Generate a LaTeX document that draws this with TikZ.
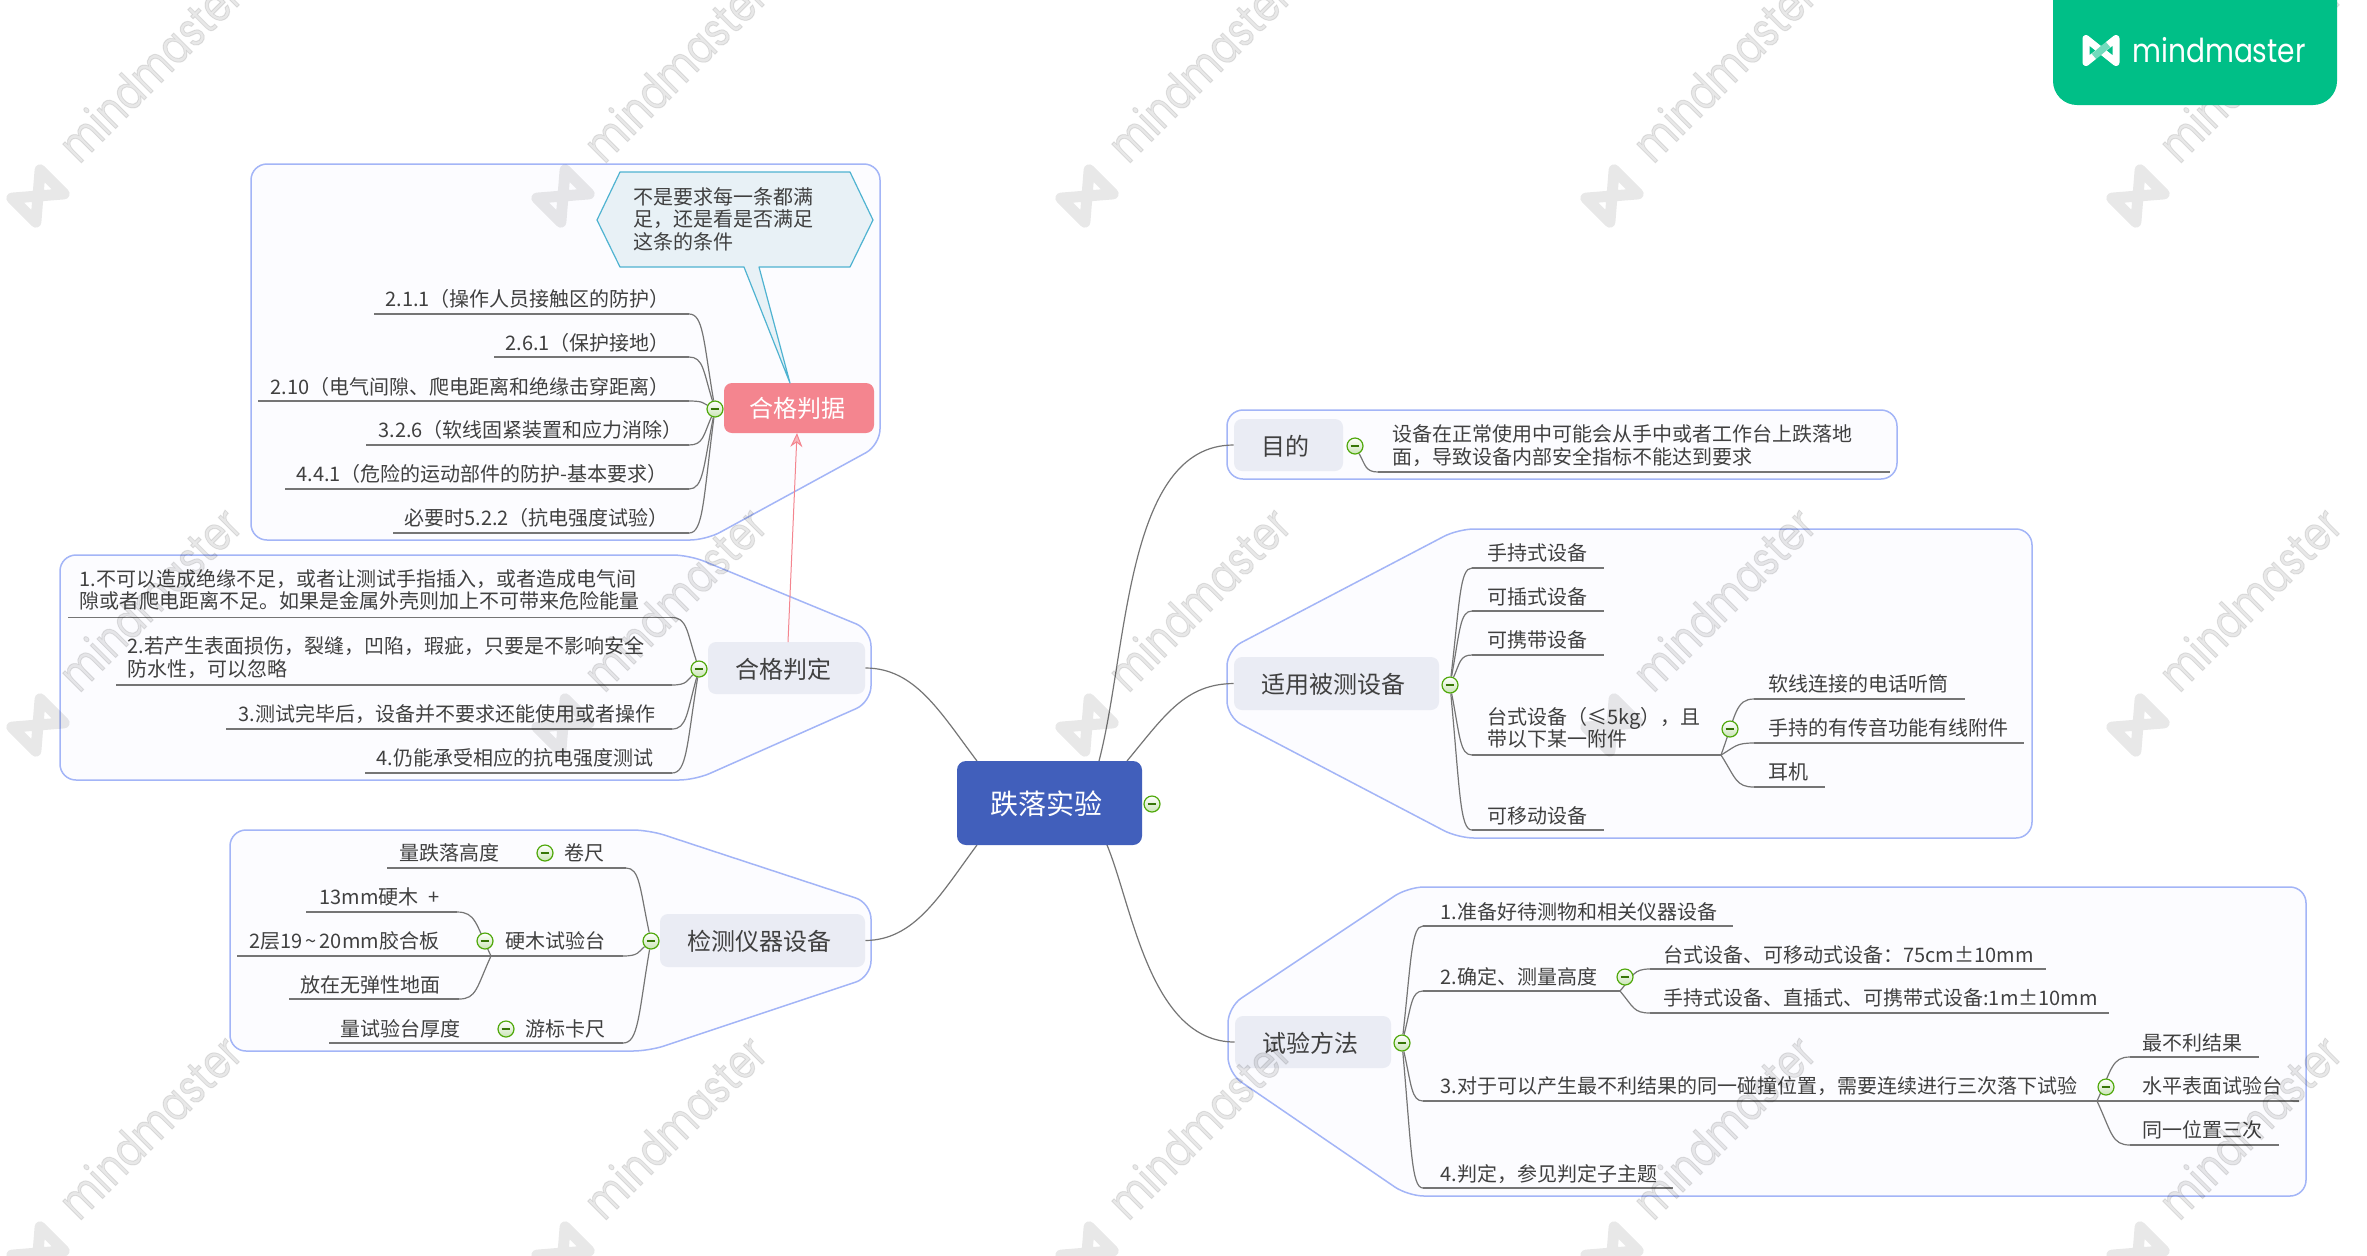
\documentclass[tikz,border=0pt]{standalone}
\usepackage{graphicx}
\usepackage{fontspec}
\setmainfont{Noto Sans CJK SC}
\newfontfamily\logofont{Poppins}
\newfontfamily\wmfont[FakeBold=2.2]{Poppins}
\usetikzlibrary{calc,arrows.meta}
\pgfdeclarelayer{boxes}
\pgfdeclarelayer{lines}
\pgfsetlayers{boxes,lines,main}
\definecolor{grpline}{HTML}{A3B5F7}
\definecolor{grpfill}{HTML}{FCFCFF}
\definecolor{inkc}{HTML}{404040}
\definecolor{linkc}{HTML}{757575}
\definecolor{topicfill}{HTML}{EAECF4}
\definecolor{rootfill}{HTML}{415FBB}
\definecolor{pinkc}{HTML}{F4858F}
\definecolor{collc}{HTML}{4FA80A}
\definecolor{calloutline}{HTML}{4FB3D1}
\definecolor{calloutfill}{HTML}{E8F1F6}
\definecolor{logoc}{HTML}{00BF87}
\tikzset{
  grp/.style={draw=grpline,fill=grpfill,line width=.75pt,rounded corners=8pt},
  leaf/.style={anchor=base west,inner sep=0pt,text=inkc,font=\fontsize{10}{11.25}\selectfont},
  leaftwo/.style={anchor=west,inner sep=0pt,align=left,text=inkc,font=\fontsize{10}{11.25}\selectfont},
  under/.style={draw=linkc,line width=.7pt},
  link/.style={draw=linkc,line width=.6pt},
  topic/.style={rectangle,rounded corners=4pt,fill=topicfill,inner sep=0pt,text=inkc,text depth=0pt,font=\fontsize{12}{14}\selectfont,execute at end node={\kern3pt}},
  coll/.style={circle,draw=collc,line width=.6pt,top color=white,bottom color=collc!30,inner sep=0pt,minimum size=8pt,
    path picture={\draw[draw=collc!70!black,line width=.6pt] ($(path picture bounding box.center)+(-2.2pt,0)$) -- ($(path picture bounding box.center)+(2.2pt,0)$);}},
  wmark/.style={draw=black,draw opacity=.09,line width=5.5pt,line join=round},
  wmtext/.style={text=black,text opacity=.09,inner sep=0pt,anchor=base,font=\wmfont\fontsize{24}{26}\selectfont},
}
\newcommand\lf[7]{\coordinate (#1L) at (#2,#4); \coordinate (#1R) at (#3,#4);
  \node[leaf] (#1) at (#5,#6+7.5) {#7};
  \draw[under] (#1L) -- (#1R);}
\newcommand\lftwo[7]{\coordinate (#1L) at (#2,#4); \coordinate (#1R) at (#3,#4);
  \node[leaftwo] (#1) at (#5,#6) {#7};
  \draw[under] (#1L) -- (#1R);}
\newcommand\conn[2]{\begin{pgfonlayer}{lines}\draw[link] let \p1=(#1), \p2=(#2) in (#1) .. controls ({\x1+.55*(\x2-\x1)},\y1) and ({\x1+.55*(\x2-\x1)},{\y1+.27*(\y2-\y1)}) .. (#2);\end{pgfonlayer}}
\begin{document}
\begin{tikzpicture}[x=0.5pt,y=-0.5pt]
\useasboundingbox (0,0) rectangle (2367,1255);
% group frames
\begin{pgfonlayer}{boxes}
\fill[white] (0,0) rectangle (2367,1255);
\draw[grp] (251,164) -- (880,164) -- (880,445) -- (706,540) -- (251,540) -- cycle;
\draw[grp] (60,555) -- (689,555) -- (871,630) -- (871,702) -- (695,780) -- (60,780) -- cycle;
\draw[grp] (230,830) -- (649,830) -- (871,903) -- (871,977) -- (649,1051) -- (230,1051) -- cycle;
\draw[grp] (1227,410) -- (1897,410) -- (1897,479) -- (1227,479) -- cycle;
\draw[grp] (1458,529) -- (2032,529) -- (2032,838) -- (1458,838) -- (1227,717) -- (1227,650) -- cycle;
\draw[grp] (1408,887) -- (2306,887) -- (2306,1196) -- (1408,1196) -- (1228,1073) -- (1228,1007) -- cycle;
\end{pgfonlayer}
% root and topics
\node[rectangle,rounded corners=4.5pt,fill=rootfill,text=white,text depth=0pt,inner sep=0pt,minimum width=92.5pt,minimum height=42pt,font=\fontsize{14}{16}\selectfont,execute at end node={\kern3pt}] (root) at (1049.5,803) {跌落实验};
\node[coll] (collRoot) at (1152,804) {};
\node[topic,minimum width=54.5pt,minimum height=26pt] (tMud) at (1288.5,445) {目的};
\node[topic,minimum width=102.5pt,minimum height=26.5pt] (tShi) at (1336.5,683.5) {适用被测设备};
\node[topic,minimum width=78pt,minimum height=26pt] (tFan) at (1313,1042) {试验方法};
\node[topic,minimum width=78.5pt,minimum height=26pt] (tPan) at (786.5,668) {合格判定};
\node[topic,minimum width=102.5pt,minimum height=26.5pt] (tJian) at (762.5,940.5) {检测仪器设备};
\node[rectangle,rounded corners=4pt,fill=pinkc,text=white,inner sep=0pt,minimum width=75pt,minimum height=25pt,font=\fontsize{12}{14}\selectfont,execute at end node={\kern2pt}] (tJu) at (799,408) {合格判据};
% root connectors
\coordinate (rUa) at (1099,761);
\coordinate (rUb) at (1127,761);
\coordinate (rDa) at (1107,845);
\coordinate (rUl) at (977,761);
\coordinate (rDl) at (977,845);
\begin{pgfonlayer}{lines}
\draw[link] (rUa) .. controls (1128,650) and (1125,445) .. (tMud.west);
\draw[link] (rUb) .. controls (1165,715) and (1185,684) .. (tShi.west);
\draw[link] (rDa) .. controls (1132,905) and (1150,1042) .. (tFan.west);
\draw[link] (rUl) .. controls (940,712) and (915,668) .. (tPan.east);
\draw[link] (rDl) .. controls (940,895) and (915,940) .. (tJian.east);
\end{pgfonlayer}
% callout
\path[draw=calloutline,fill=calloutfill,line width=.6pt,line join=round] (597,220) -- (620,172) -- (850,172) -- (873,220) -- (850,267) -- (759,267) -- (790,383) -- (744,267) -- (620,267) -- cycle;
\node[leaftwo] (callout) at (633,219) {不是要求每一条都满\\足，还是看是否满足\\这条的条件};
% pink relation
\coordinate (jTo) at (797,433);
\coordinate (jFrom) at (788,642);
\draw[draw=pinkc,line width=.5pt,-{Stealth[length=7pt,width=6pt,fill=pinkc!60]}] (jFrom) -- (jTo);
% group A
\node[coll] (cA) at (715,409) {};
\lf{aA}{374}{689}{314}{385}{299}{2.1.1（操作人员接触区的防护）}
\lf{aB}{494}{689}{357}{505}{343}{2.6.1（保护接地）}
\lf{aC}{258}{689}{401}{270}{387}{2.10（电气间隙、爬电距离和绝缘击穿距离）}
\lf{aD}{366}{689}{445}{378}{430}{3.2.6（软线固紧装置和应力消除）}
\lf{aE}{285}{689}{489}{296}{474}{4.4.1（危险的运动部件的防护-基本要求）}
\lf{aF}{393}{689}{533}{404}{518}{必要时5.2.2（抗电强度试验）}
\foreach \lk in {aA,aB,aC,aD,aE,aF}{\conn{\lk R}{cA}}
% group B
\node[coll] (cB) at (699,669) {};
\lftwo{bA}{68}{672}{617.5}{79}{590}{1.不可以造成绝缘不足，或者让测试手指插入，或者造成电气间\\隙或者爬电距离不足。如果是金属外壳则加上不可带来危险能量}
\lftwo{bB}{116}{672}{685}{127}{657.5}{2.若产生表面损伤，裂缝，凹陷，瑕疵，只要是不影响安全\\防水性，可以忽略}
\lf{bC}{226}{672}{729}{238}{714}{3.测试完毕后，设备并不要求还能使用或者操作}
\lf{bD}{365}{672}{773}{376}{758}{4.仍能承受相应的抗电强度测试}
\foreach \lk in {bA,bB,bC,bD}{\conn{\lk R}{cB}}
% group C
\node[coll] (cC) at (651,941) {};
\lf{cuA}{517}{626}{868}{564}{853}{卷尺}
\lf{cuB}{387}{517}{868}{399}{853}{量跌落高度}
\node[coll] (cuC) at (545,853) {};
\lf{cvA}{491}{623}{956}{505}{941}{硬木试验台}
\node[coll] (cvC) at (485,941) {};
\lf{cvB}{306}{457}{912}{319}{897}{13mm硬木\kern2.5pt\ +}
\lf{cvD}{237}{491}{956}{249}{941}{2层19\kern1.5pt\char"007E\kern1.5pt 20mm胶合板}
\lf{cvE}{289}{459}{999}{300}{985}{放在无弹性地面}
\lf{cwA}{476}{623}{1043}{525}{1029}{游标卡尺}
\lf{cwB}{329}{476}{1043}{340}{1029}{量试验台厚度}
\node[coll] (cwC) at (506,1029) {};
\foreach \lk in {cuA,cvA,cwA}{\conn{\lk R}{cC}}
\conn{cvBR}{cvAL}
\conn{cvER}{cvAL}
% group D
\node[coll] (cD) at (1355,446) {};
\lftwo{dA}{1378}{1890}{472}{1392}{445.5}{设备在正常使用中可能会从手中或者工作台上跌落地\\面，导致设备内部安全指标不能达到要求}
\conn{dAL}{cD}
% group E
\node[coll] (cE) at (1450,685) {};
\lf{eA}{1472}{1604}{568}{1487}{553}{手持式设备}
\lf{eB}{1472}{1604}{611}{1487}{597}{可插式设备}
\lf{eC}{1472}{1604}{655}{1487}{640}{可携带设备}
\lftwo{eD}{1472}{1721}{755}{1487}{728}{台式设备（≤5kg），且\\带以下某一附件}
\lf{eE}{1472}{1604}{830}{1487}{816}{可移动设备}
\foreach \lk in {eA,eB,eC,eD,eE}{\conn{\lk L}{cE}}
\node[coll] (cEd) at (1730,729) {};
\lf{edA}{1754}{1965}{699}{1768}{684}{软线连接的电话听筒}
\lf{edB}{1754}{2024}{743}{1768}{728}{手持的有传音功能有线附件}
\lf{edC}{1754}{1825}{787}{1768}{772}{耳机}
\foreach \lk in {edA,edB,edC}{\conn{\lk L}{eDR}}
% group F
\node[coll] (cF) at (1402,1043) {};
\lf{fA}{1423}{1733}{926}{1440}{912}{1.准备好待测物和相关仪器设备}
\lf{fB}{1423}{1620}{991}{1440}{977}{2.确定、测量高度}
\lf{fC}{1423}{2097}{1101}{1440}{1086}{3.对于可以产生最不利结果的同一碰撞位置，需要连续进行三次落下试验}
\lf{fD}{1423}{1673}{1188}{1440}{1174}{4.判定，参见判定子主题}
\foreach \lk in {fA,fB,fC,fD}{\conn{\lk L}{cF}}
\node[coll] (cFb) at (1625,977) {};
\lf{fbA}{1650}{2046}{969}{1663}{955}{台式设备、可移动式设备：75cm±10mm}
\lf{fbB}{1650}{2109}{1013}{1663}{998}{手持式设备、直插式、可携带式设备:1m±10mm}
\foreach \lk in {fbA,fbB}{\conn{\lk L}{fBR}}
\node[coll] (cFc) at (2106,1087) {};
\lf{fcA}{2130}{2259}{1057}{2142}{1043}{最不利结果}
\lf{fcB}{2130}{2299}{1101}{2142}{1086}{水平表面试验台}
\lf{fcC}{2130}{2279}{1145}{2142}{1130}{同一位置三次}
\foreach \lk in {fcA,fcB,fcC}{\conn{\lk L}{fCR}}
% watermarks
\foreach \cx in {38,563,1087,1612,2138}{
  \foreach \cy in {196,725,1253}{
    \begin{scope}[shift={(\cx,\cy)},rotate=45]
      \draw[wmark] (-20,-17) -- (20,17) -- (20,-17) -- (-20,17) -- cycle;
    \end{scope}
    \node[wmtext,rotate=45] (wm\cx x\cy) at (\cx+124,\cy-114) {\scalebox{.79}[1]{mindmaster}};
  }
}
% logo
\path[fill=logoc,rounded corners=12pt] (2053,-40) -- (2337,-40) -- (2337,105) -- (2053,105) -- cycle;
\begin{scope}[shift={(2101,50.5)}]
  \draw[draw=white,line width=3.5pt,line join=round] (-15,-12) -- (15,12) -- (15,-12) -- (-15,12) -- cycle;
  \draw[draw=logoc,draw opacity=.55,line width=3.5pt] (-7,6) -- (7,-6);
\end{scope}
\node[anchor=west,inner sep=0pt,text=white,font=\logofont\fontsize{16.5}{18}\selectfont] (logoText) at (2132,50) {\scalebox{.85}[1]{mindmaster}};
\end{tikzpicture}
\end{document}
